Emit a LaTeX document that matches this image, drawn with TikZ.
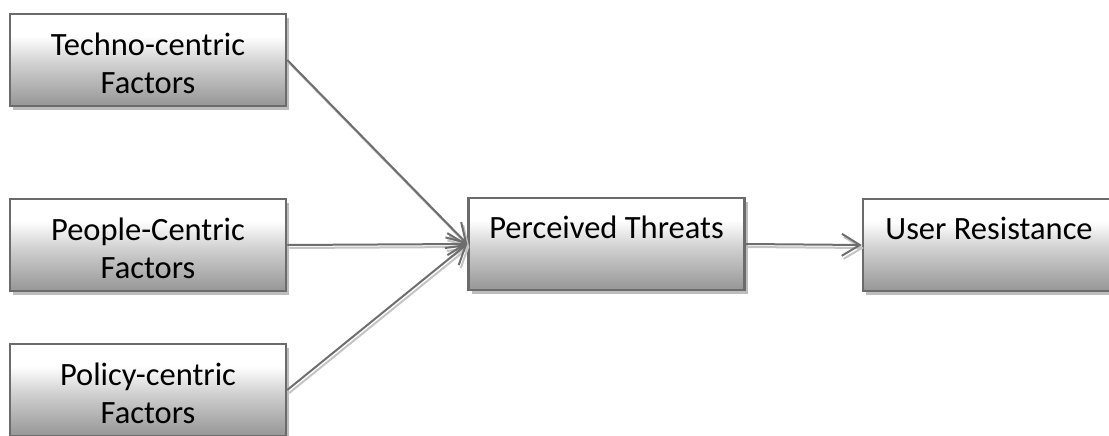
\documentclass[tikz,border=0pt]{standalone}
\usepackage{fontspec}
\setmainfont{Carlito}
\usetikzlibrary{arrows.meta,shadows,calc}
\definecolor{boxline}{HTML}{6B6B6B}
\definecolor{shbot}{HTML}{969696}
\definecolor{shmid}{HTML}{D0D0D0}
\definecolor{arrline}{HTML}{6E6E6E}
\definecolor{arrshadow}{HTML}{C4C4C4}
\definecolor{boxshadow}{HTML}{BDBDBD}
\pgfdeclareverticalshading{boxshade}{100bp}{color(0bp)=(shbot); color(25bp)=(shbot); color(48bp)=(shmid); color(63bp)=(white); color(100bp)=(white)}
\tikzset{
  box/.style={draw=boxline, line width=2.5pt, shading=boxshade,
    minimum width=276pt, minimum height=92pt, inner sep=0pt,
    drop shadow={shadow xshift=3pt, shadow yshift=-4pt, fill=boxshadow, opacity=1}},
  lbl/.style={anchor=base, inner sep=0pt, font=\fontsize{32.5}{38}\selectfont},
  conn/.style={draw=arrline, line width=2pt,
    -{Straight Barb[length=18pt,width=22pt,line width=2pt]}},
  connsh/.style={draw=arrshadow, line width=2pt,
    -{Straight Barb[length=18pt,width=22pt,line width=2pt]},
    transform canvas={shift={(2pt,-3pt)}}}
}
\begin{document}
\begin{tikzpicture}[x=1pt,y=-1pt]
\useasboundingbox (0,0) rectangle (1109,436);
\clip (0,0) rectangle (1109,436);
% boxes
\node[box] (tech) at (148,60) {};
\node[box] (people) at (148,245) {};
\node[box] (policy) at (148,390) {};
\node[box] (perc) at (606.5,244) {};
\node[box] (user) at (1001,245) {};
% labels
\node[lbl] (techt) at ($(tech.north)+(0,43)$) {\parbox[t]{270pt}{\centering Techno-centric\\Factors}};
\node[lbl] (peoplet) at ($(people.north)+(0,43)$) {\parbox[t]{270pt}{\centering People-Centric\\Factors}};
\node[lbl] (policyt) at ($(policy.north)+(0,43)$) {\parbox[t]{270pt}{\centering Policy-centric\\Factors}};
\node[lbl] (perct) at ($(perc.north)+(0,42)$) {\parbox[t]{270pt}{\centering Perceived Threats}};
\node[lbl] (usert) at ($(user.north)+(-12,42)$) {\parbox[t]{270pt}{\centering User Resistance}};
% connector shadows
\draw[connsh] (tech.east) -- (perc.west);
\draw[connsh] (people.east) -- (perc.west);
\draw[connsh] (policy.east) -- (perc.west);
\draw[connsh] (perc.east) -- (user.west);
% connectors
\draw[conn] (tech.east) -- (perc.west);
\draw[conn] (people.east) -- (perc.west);
\draw[conn] (policy.east) -- (perc.west);
\draw[conn] (perc.east) -- (user.west);
\end{tikzpicture}
\end{document}
